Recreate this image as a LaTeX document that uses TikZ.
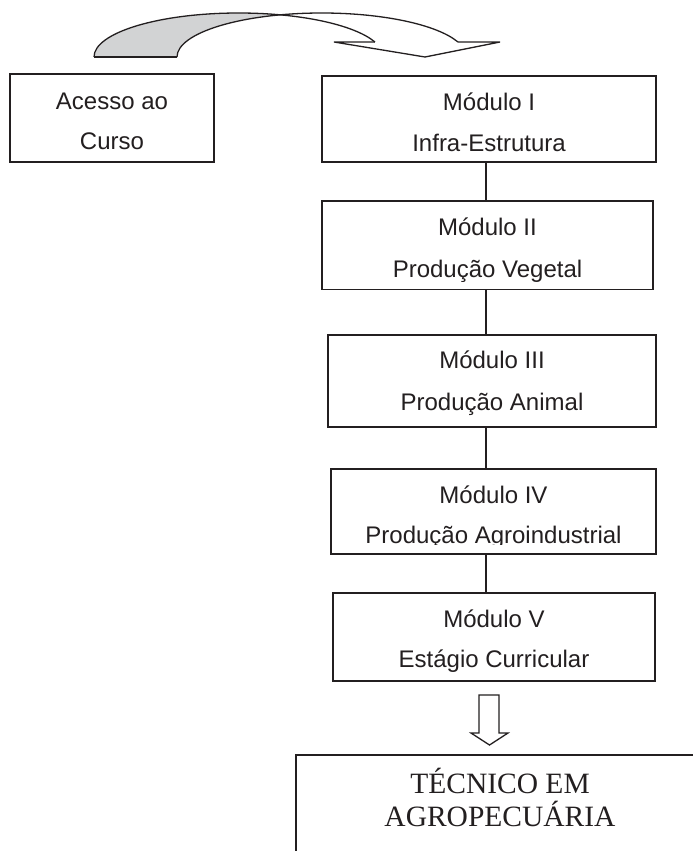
\documentclass[tikz,border=0pt]{standalone}
\usepackage{fontspec}
\newfontfamily\arialf{Liberation Sans}
\newfontfamily\timesf{Liberation Serif}
\definecolor{inkc}{RGB}{35,31,32}
\definecolor{ribbongray}{RGB}{210,211,212}
\tikzset{
  box/.style={draw=inkc, line width=1.3pt, inner sep=0pt, rectangle},
  modtext/.style={anchor=base, inner sep=0pt, text=inkc, font=\arialf\fontsize{24}{28}\selectfont},
  bigtext/.style={anchor=base, inner sep=0pt, text=inkc, font=\timesf\fontsize{29.5}{33}\selectfont},
  conn/.style={draw=inkc, line width=1.3pt},
  outline/.style={draw=inkc, line width=1.3pt, line join=miter}
}
\begin{document}
\begin{tikzpicture}[x=1pt,y=-1pt]
\clip (0,0) rectangle (693,851);
\fill[white] (0,0) rectangle (693,851);

% curved arrow (two shifted ellipse arcs)
\fill[ribbongray] (94,57) arc[start angle=180, end angle=286.65, x radius=144.8, y radius=44]
  -- (280.3,14.8) arc[start angle=253.35, end angle=180, x radius=144.8, y radius=44] -- cycle;
\draw[outline] (94,57) arc[start angle=180, end angle=340.07, x radius=144.8, y radius=44];
\draw[outline] (177,57) arc[start angle=180, end angle=340.07, x radius=144.8, y radius=44];
\draw[outline] (94,57) -- (177,57);
\draw[outline] (457.9,42) -- (500,42) -- (425,57) -- (334,42) -- (374.9,42);

% boxes
\node[box, minimum width=204, minimum height=88] (acc) at (112,118) {};
\node[box, minimum width=334, minimum height=86] (m1) at (489,119) {};
\node[box, minimum width=331, minimum height=88.5] (m2) at (487.5,245.25) {};
\node[box, minimum width=328, minimum height=92] (m3) at (492,381) {};
\node[box, minimum width=325, minimum height=85] (m4) at (493.5,511.5) {};
\node[box, minimum width=322, minimum height=88] (m5) at (494,637) {};
\node[box, minimum width=420, minimum height=130] (tec) at (506,820) {};

% texts
\node[modtext] (acca) at (112,109) {Acesso ao};
\node[modtext] (accb) at (112,149) {Curso};
\node[modtext] (m1a) at (489,110) {Módulo I};
\node[modtext] (m1b) at (489,151) {Infra-Estrutura};
\node[modtext] (m2a) at (487.5,235) {Módulo II};
\begin{scope}
\clip (322,250) rectangle (653,281);
\node[modtext] (m2b) at (487.5,277) {Produção Vegetal};
\end{scope}
\node[modtext] (m3a) at (492,368) {Módulo III};
\node[modtext] (m3b) at (492,410) {Produção Animal};
\node[modtext] (m4a) at (493.5,503) {Módulo IV};
\begin{scope}
\clip (331,515) rectangle (656,544.6);
\node[modtext] (m4b) at (493.5,543) {Produção Agroindustrial};
\end{scope}
\node[modtext] (m5a) at (494,627) {Módulo V};
\node[modtext] (m5b) at (494,667) {Estágio Curricular};
\node[bigtext] (teca) at (500,793) {TÉCNICO EM};
\node[bigtext] (tecb) at (500,826) {AGROPECUÁRIA};

% connectors
\coordinate (cx) at (486,0);
\draw[conn] (m1.south -| cx) -- (m2.north -| cx);
\draw[conn] (m2.south -| cx) -- (m3.north -| cx);
\draw[conn] (m3.south -| cx) -- (m4.north -| cx);
\draw[conn] (m4.south -| cx) -- (m5.north -| cx);

% block down arrow
\draw[outline] (479,695) -- (499,695) -- (499,733) -- (508,733) -- (489.5,745) -- (471,733) -- (479,733) -- cycle;
\end{tikzpicture}
\end{document}
